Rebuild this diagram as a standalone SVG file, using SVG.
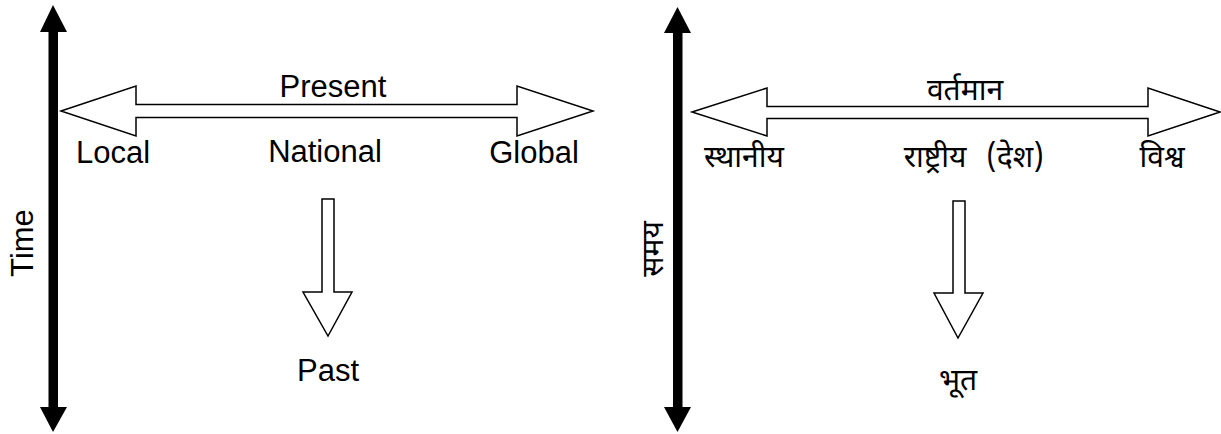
<svg xmlns="http://www.w3.org/2000/svg" width="1221" height="434" viewBox="0 0 1221 434">
<style>
.en{font-family:"Liberation Sans",Arial,sans-serif;font-size:31px;fill:#000}
.hi{font-family:"Noto Sans Devanagari","Lohit Devanagari","Noto Sans","DejaVu Sans",sans-serif;font-size:30px;fill:#000}
.blk{fill:#fff;stroke:#000;stroke-width:1.5;stroke-linejoin:miter}
.axis{fill:#000}
</style>
<g id="connectors">
<g id="time-axis-left" class="axis">
<rect x="48.5" y="30" width="9.5" height="380"/>
<polygon points="53,5 67,32 40,32"/>
<polygon points="53,432 67,407 40,407"/>
</g>
<g id="time-axis-right" class="axis">
<rect x="673" y="30" width="9.5" height="380"/>
<polygon points="677.5,7 691,33 664,33"/>
<polygon points="677.5,432 691,407 664,407"/>
</g>
<polygon id="space-arrow-left" class="blk" points="61,111 136,86 136,104.5 517,104.5 517,86 593,111 517,136 517,117.5 136,117.5 136,136"/>
<polygon id="space-arrow-right" class="blk" points="692,112 767,88 767,106.5 1148,106.5 1148,88 1220,112 1148,136 1148,118.5 767,118.5 767,136"/>
<polygon id="past-arrow-left" class="blk" points="322,199 334,199 334,292 352,292 328,336 303,292 322,292"/>
<polygon id="past-arrow-right" class="blk" points="953,201 965,201 965,293 983,293 958,338 934,293 953,293"/>
</g>
<g id="present"><text class="en" x="333" y="97" text-anchor="middle">Present</text></g>
<g id="local"><text class="en" x="113" y="163" text-anchor="middle">Local</text></g>
<g id="national"><text class="en" x="325" y="162" text-anchor="middle">National</text></g>
<g id="global"><text class="en" x="534" y="163" text-anchor="middle">Global</text></g>
<g id="past"><text class="en" x="328" y="381" text-anchor="middle">Past</text></g>
<g id="time"><text class="en" transform="translate(33,243) rotate(-90)" text-anchor="middle">Time</text></g>
<g id="vartaman"><text class="hi" x="965" y="100" text-anchor="middle">वर्तमान</text></g>
<g id="sthaniya"><text class="hi" x="744" y="167" text-anchor="middle">स्थानीय</text></g>
<g id="rashtriya"><text class="hi" x="935" y="167" text-anchor="middle">राष्ट्रीय</text><text class="hi" x="1015" y="167" text-anchor="middle">(देश)</text></g>
<g id="vishva"><text class="hi" x="1162" y="167" text-anchor="middle">विश्व</text></g>
<g id="bhoot"><text class="hi" x="958" y="390" text-anchor="middle">भूत</text></g>
<g id="samay"><text class="hi" transform="translate(663,249) rotate(-90)" text-anchor="middle">समय</text></g>
</svg>
